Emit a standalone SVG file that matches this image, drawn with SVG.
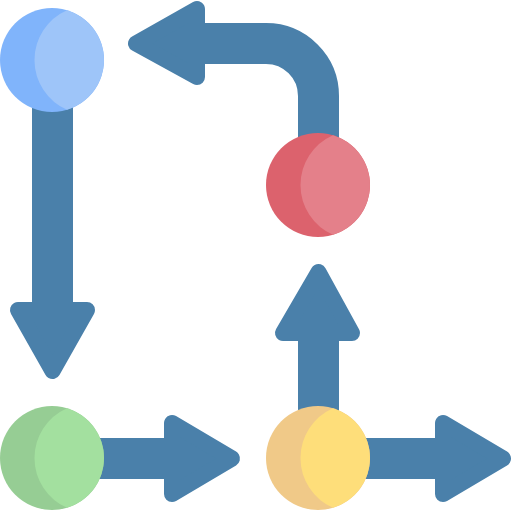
<svg xmlns="http://www.w3.org/2000/svg" width="512" height="512" viewBox="0 0 512 512">
<style>
.shaft{fill:none;stroke:#4a80aa;stroke-width:41}
.head{fill:#4a80aa;stroke:#4a80aa;stroke-width:16;stroke-linejoin:round}
</style>
<defs>
<path id="lit" d="M15 -49.8 A52 52 0 0 1 15 49.8 A54.4 54.4 0 0 1 15 -49.8 Z"/>
</defs>
<rect width="512" height="512" fill="#ffffff"/>
<g id="connectors">
<path class="shaft" d="M52.5 100 V312"/>
<polygon class="head" points="18,310 87,310 52.5,371"/>
<path class="shaft" d="M318.5 185 V96 A52.5 52.5 0 0 0 266 43.5 H195"/>
<polygon class="head" points="197,9 197,77 136,43.5"/>
<path class="shaft" d="M318.5 458 V331"/>
<polygon class="head" points="283,333 352,333 318.5,272"/>
<path class="shaft" d="M52 458.5 H174"/>
<polygon class="head" points="172,423 172,494 232,458.5"/>
<path class="shaft" d="M318 458.5 H445"/>
<polygon class="head" points="443,423 443,494 503,458.5"/>
</g>
<g id="node-blue" transform="translate(52,60)">
<circle r="52" fill="#80b4fb"/>
<use href="#lit" fill="#9ec5f9"/>
</g>
<g id="node-red" transform="translate(318,185)">
<circle r="52" fill="#dc626d"/>
<use href="#lit" fill="#e4808a"/>
</g>
<g id="node-green" transform="translate(52,458)">
<circle r="52" fill="#96cd94"/>
<use href="#lit" fill="#a3e09f"/>
</g>
<g id="node-yellow" transform="translate(318,458)">
<circle r="52" fill="#f0c988"/>
<use href="#lit" fill="#fede7a"/>
</g>
</svg>
